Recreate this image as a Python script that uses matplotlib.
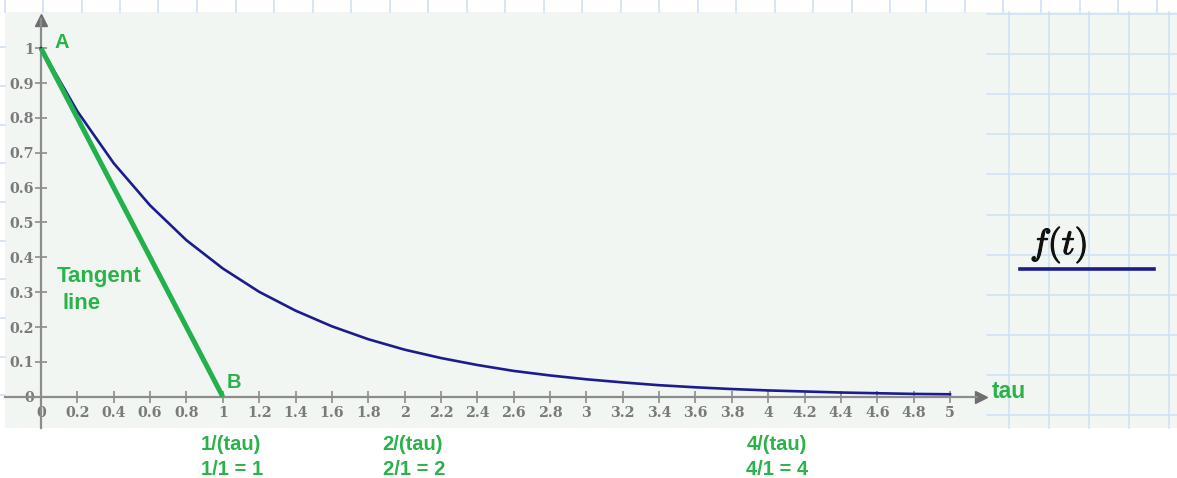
import matplotlib
matplotlib.use("Agg")
import matplotlib.pyplot as plt
import matplotlib.patheffects as pe
from matplotlib.lines import Line2D
from matplotlib.patches import Rectangle

t_vals = [0.0, 0.2, 0.4, 0.6, 0.8, 1.0, 1.2, 1.4, 1.6, 1.8, 2.0, 2.2, 2.4,
          2.6, 2.8, 3.0, 3.2, 3.4, 3.6, 3.8, 4.0, 4.2, 4.4, 4.6, 4.8, 5.0]
f_vals = [1.0, 0.819, 0.670, 0.549, 0.449, 0.368, 0.301, 0.247, 0.202, 0.165,
          0.135, 0.111, 0.091, 0.074, 0.061, 0.050, 0.041, 0.033, 0.027, 0.022,
          0.018, 0.015, 0.012, 0.010, 0.008, 0.007]

# tangent line from A to B
tangent_t = [0.0, 1.0]
tangent_y = [1.0, 0.0]

x_ticks = [0, 0.2, 0.4, 0.6, 0.8, 1, 1.2, 1.4, 1.6, 1.8, 2, 2.2, 2.4, 2.6, 2.8,
           3, 3.2, 3.4, 3.6, 3.8, 4, 4.2, 4.4, 4.6, 4.8, 5]
y_ticks = [0, 0.1, 0.2, 0.3, 0.4, 0.5, 0.6, 0.7, 0.8, 0.9, 1]

# notes under the axis: (x position in tau, line 1, line 2)
notes_x = [1, 2, 4]
notes_top = ["1/(tau)", "2/(tau)", "4/(tau)"]
notes_bottom = ["1/1 = 1", "2/1 = 2", "4/1 = 4"]

W, H = 1177, 478
CURVE = "#1c1c8e"
GREEN = "#22b14c"
TXT_GREEN = "#2bb24a"
AXIS = "#8c8c8c"
TICK_TXT = "#7a7a7a"
PANEL = "#f2f6f3"
GRID = "#cfe2f5"

plt.rcParams["mathtext.fontset"] = "cm"

fig = plt.figure(figsize=(W / 100, H / 100), dpi=100)
fig.patch.set_facecolor("white")


def fx(px):
    return px / W


def fy(py):
    return 1 - py / H


# worksheet background: panel + paper grid
fig.add_artist(Rectangle((fx(5), fy(428)), fx(W - 5), fy(12) - fy(428),
                         transform=fig.transFigure, facecolor=PANEL,
                         edgecolor="none", zorder=0))
for gx in [5, 43, 82, 120, 158, 197, 236, 274, 313, 351, 390, 428, 467, 505,
           544, 582, 621, 659, 698, 736, 775, 813, 852, 890, 926, 965, 1003,
           1041, 1080, 1118, 1157]:
    fig.add_artist(Line2D([fx(gx), fx(gx)], [fy(0), fy(12)],
                          transform=fig.transFigure, color=GRID, lw=1.2, zorder=1))
for gx in [1009, 1049, 1089, 1129, 1169]:
    fig.add_artist(Line2D([fx(gx), fx(gx)], [fy(12), fy(428)],
                          transform=fig.transFigure, color=GRID, lw=1.2, zorder=1))
for gy in [14, 54, 94, 134, 174, 215, 255, 295, 335, 375, 415]:
    fig.add_artist(Line2D([fx(987), fx(W)], [fy(gy), fy(gy)],
                          transform=fig.transFigure, color=GRID, lw=1.2, zorder=1))
for gy in [47, 86, 125, 163, 202, 241, 279, 318, 357, 395]:
    fig.add_artist(Line2D([fx(0), fx(5)], [fy(gy), fy(gy)],
                          transform=fig.transFigure, color=GRID, lw=1.2, zorder=1))

# plot region
ax = fig.add_axes([fx(5), fy(428), fx(987) - fx(5), fy(12) - fy(428)])
ax.set_zorder(3)
ax.patch.set_alpha(0)
ax.set_xlim(-0.198, 5.2035)
ax.set_ylim(-0.0898, 1.104)

ax.plot(t_vals, f_vals, color=CURVE, lw=1.9, zorder=3, clip_on=False)
ax.plot(tangent_t, tangent_y, color=GREEN, lw=3.6, zorder=4,
        solid_capstyle="butt")

for side in ["top", "right"]:
    ax.spines[side].set_visible(False)
ax.spines["left"].set_position(("data", 0))
ax.spines["bottom"].set_position(("data", 0))
ax.spines["bottom"].set_bounds(-0.198, 5.15)
ax.spines["left"].set_bounds(-0.0898, 1.085)
for side in ["left", "bottom"]:
    ax.spines[side].set_color(AXIS)
    ax.spines[side].set_linewidth(1.6)

# arrow heads on the axes
ax.plot(0.9939, 0, ">", transform=ax.get_yaxis_transform(), color="#6e6e6e",
        ms=8, clip_on=False)
ax.plot(0, 0.981, "^", transform=ax.get_xaxis_transform(), color="#6e6e6e",
        ms=8, clip_on=False)

tick_font = {"family": "DejaVu Serif", "weight": "bold", "size": 10.3}
ax.set_xticks(x_ticks)
ax.set_xticklabels([f"{v:g}" for v in x_ticks], fontdict=tick_font,
                   color=TICK_TXT)
ax.set_yticks(y_ticks)
ax.set_yticklabels([f"{v:g}" for v in y_ticks], fontdict=tick_font,
                   color=TICK_TXT)
ax.tick_params(axis="both", direction="inout", length=8, width=1.2,
               color=AXIS)
ax.tick_params(axis="x", pad=3)
ax.tick_params(axis="y", pad=1)

lab = {"family": "Liberation Sans", "weight": "bold", "color": TXT_GREEN}
ax.text(0.077, 1.0, "A", fontsize=14.5, ha="left", va="baseline", **lab)
ax.text(1.023, 0.025, "B", fontsize=14.5, ha="left", va="baseline", **lab)
ax.text(0.088, 0.328, "Tangent", fontsize=16, ha="left", va="baseline", **lab)
ax.text(0.12, 0.253, "line", fontsize=16, ha="left", va="baseline", **lab)
ax.text(5.23, -0.004, "tau", fontsize=16.5, ha="left", va="baseline",
        clip_on=False, **lab)

for nx, top, bottom in zip(notes_x, notes_top, notes_bottom):
    px = 41 + nx * 181.87 - 22
    fig.text(fx(px), fy(450), top, fontsize=14.5, ha="left", va="baseline",
             **lab)
    fig.text(fx(px), fy(475), bottom, fontsize=14.5, ha="left", va="baseline",
             **lab)

# legend entry at the right
fig.text(fx(1030), fy(245), r"$f(t)$", fontsize=26, ha="left", va="center",
         color="#111111",
         path_effects=[pe.withStroke(linewidth=0.8, foreground="#111111")])
fig.add_artist(Line2D([fx(1020), fx(1154)], [fy(269), fy(269)],
                      transform=fig.transFigure, color=CURVE, lw=2.6))

fig.savefig("out.png", dpi=100, facecolor=fig.get_facecolor())
